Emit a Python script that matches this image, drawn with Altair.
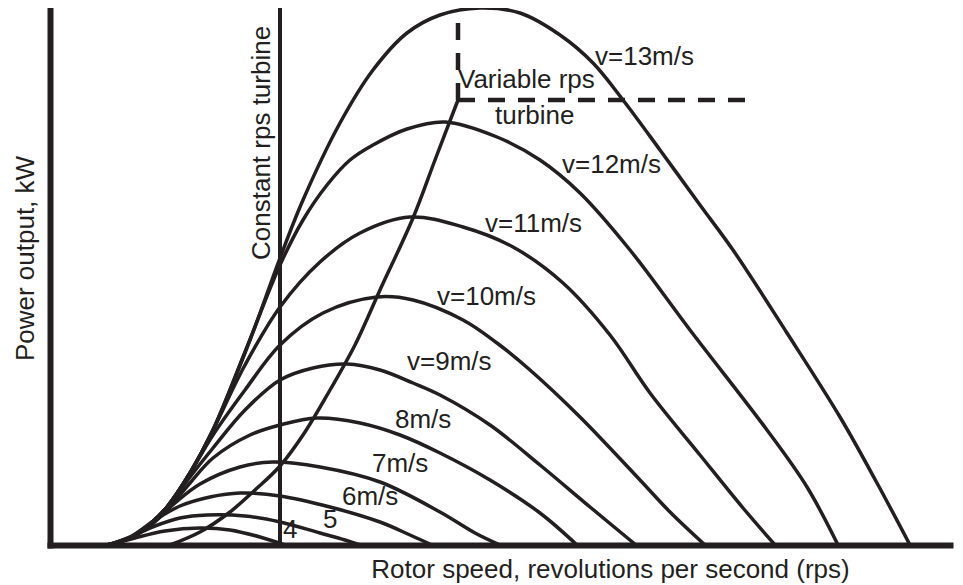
import altair as alt
import pandas as pd

INK = "#231f20"
FONT = "Liberation Sans"

# wind speed of each power curve (m/s)
speeds = [4, 5, 6, 7, 8, 9, 10, 11, 12, 13]

# rotor speed (x) and power output (y), arbitrary units
c4_x = [60, 85, 115, 150, 180, 210, 235]
c4_y = [0, 7, 14, 17, 15, 8, 0]
c5_x = [58, 80, 105, 130, 157, 195, 230, 270, 295, 310]
c5_y = [0, 8, 19, 27, 30, 29, 23, 12, 5, 0]
c6_x = [57, 80, 105, 130, 160, 190, 230, 280, 330, 360, 382]
c6_y = [0, 8, 25, 39, 48, 52, 49, 38, 23, 10, 0]
c7_x = [57, 80, 100, 125, 150, 190, 223, 270, 330, 390, 425, 450]
c7_y = [0, 7, 19, 42, 61, 78, 83, 78, 63, 33, 12, 0]
c8_x = [57, 80, 100, 117, 140, 163, 200, 230, 267, 310, 350, 390, 440, 490, 527]
c8_y = [0, 7, 20, 35, 62, 87, 110, 120, 127, 122, 110, 92, 65, 32, 0]
c9_x = [57, 80, 100, 117, 140, 163, 195, 230, 263, 297, 330, 363, 390, 440, 490, 540, 586]
c9_y = [0, 7, 21, 37, 68, 97, 135, 165, 177, 181, 175, 162, 150, 120, 80, 38, 0]
c10_x = [57, 80, 100, 117, 140, 163, 195, 230, 273, 327, 363, 413, 447, 480, 530, 590, 620, 655]
c10_y = [0, 7, 21, 38, 72, 110, 155, 200, 232, 248, 245, 225, 202, 175, 128, 65, 33, 0]
c11_x = [57, 80, 100, 117, 140, 163, 195, 230, 270, 310, 360, 413, 463, 513, 560, 600, 650, 693, 725]
c11_y = [0, 7, 21, 38, 72, 115, 180, 238, 283, 312, 328, 318, 298, 262, 210, 152, 90, 37, 0]
c12_x = [57, 80, 100, 117, 140, 163, 195, 230, 253, 277, 300, 323, 357, 395, 447, 490, 530, 580, 640, 717, 757, 788]
c12_y = [0, 7, 21, 38, 72, 115, 193, 280, 325, 360, 385, 400, 416, 423, 408, 385, 352, 295, 215, 115, 58, 0]
c13_x = [57, 80, 100, 117, 140, 163, 200, 230, 253, 290, 323, 357, 390, 430, 470, 510, 543, 573, 610, 650, 683, 737, 790, 827, 860]
c13_y = [0, 7, 21, 38, 72, 115, 205, 287, 345, 422, 475, 512, 530, 537, 532, 510, 482, 445, 395, 340, 295, 212, 128, 62, 0]

curve_x = [c4_x, c5_x, c6_x, c7_x, c8_x, c9_x, c10_x, c11_x, c12_x, c13_x]
curve_y = [c4_y, c5_y, c6_y, c7_y, c8_y, c9_y, c10_y, c11_y, c12_y, c13_y]

# variable-rps operating line (through the peaks)
var_x = [120, 150, 180, 205, 230, 255, 280, 305, 330, 363, 385, 408]
var_y = [0, 13, 33, 55, 79, 113, 155, 200, 255, 327, 385, 445]

# dashed limit lines (rated power / rated speed)
dash_x = [408, 408]
dash_x2 = [698, 408]
dash_y = [445, 445]
dash_y2 = [445, 535]

# constant-rps turbine
const_x = [230]
const_y = [0]
const_y2 = [537]

# curve labels
lab_text = ["v=13m/s", "Variable rps", "turbine", "v=12m/s", "v=11m/s", "v=10m/s",
            "v=9m/s", "8m/s", "7m/s", "6m/s", "5", "4"]
lab_x = [545, 408, 445, 512, 435, 387, 357, 345, 322, 292, 273, 233]
lab_y = [480, 457, 421, 372, 313, 240, 175, 117, 73, 40, 17, 7]

rot_text = ["Constant rps turbine"]
rot_x = [220]
rot_y = [285]

rows = []
for s, xs, ys in zip(speeds, curve_x, curve_y):
    for a, b in zip(xs, ys):
        rows.append({"speed": s, "x": a, "y": b})
curves_df = pd.DataFrame(rows)
var_df = pd.DataFrame({"x": var_x, "y": var_y})
dash_df = pd.DataFrame({"x": dash_x, "x2": dash_x2, "y": dash_y, "y2": dash_y2})
const_df = pd.DataFrame({"x": const_x, "y": const_y, "y2": const_y2})
lab_df = pd.DataFrame({"t": lab_text, "x": lab_x, "y": lab_y})
rot_df = pd.DataFrame({"t": rot_text, "x": rot_x, "y": rot_y})

xscale = alt.Scale(domain=[0, 900], nice=False, zero=False)
yscale = alt.Scale(domain=[0, 537], nice=False, zero=False)
xaxis = alt.Axis(title="Rotor speed, revolutions per second (rps)", titleX=560, titleY=32,
                 titleBaseline="alphabetic", titleAlign="center")
yaxis = alt.Axis(title="Power output, kW", titleX=-17, titleY=250, titleAngle=270,
                 titleBaseline="alphabetic", titleAlign="center")
X = alt.X("x:Q", scale=xscale, axis=xaxis)
Y = alt.Y("y:Q", scale=yscale, axis=yaxis)

curves = alt.Chart(curves_df).mark_line(
    color=INK, strokeWidth=3.5, interpolate="catmull-rom"
).encode(x=X, y=Y, detail="speed:N")

var_line = alt.Chart(var_df).mark_line(
    color=INK, strokeWidth=3.5, interpolate="catmull-rom"
).encode(x=X, y=Y)

dashes = alt.Chart(dash_df).mark_rule(
    color=INK, strokeWidth=4.5, strokeDash=[17, 13]
).encode(x=X, x2="x2:Q", y=Y, y2="y2:Q")

const = alt.Chart(const_df).mark_rule(color=INK, strokeWidth=4).encode(x=X, y=Y, y2="y2:Q")

labels = alt.Chart(lab_df).mark_text(
    font=FONT, fontSize=26, color=INK, align="left", baseline="alphabetic"
).encode(x=X, y=Y, text="t:N")

rot = alt.Chart(rot_df).mark_text(
    font=FONT, fontSize=26, color=INK, align="left", baseline="alphabetic", angle=270
).encode(x=X, y=Y, text="t:N")

chart = alt.layer(curves, var_line, dashes, const, labels, rot).properties(
    width=900, height=537,
    autosize=alt.AutoSizeParams(type="none"),
    padding={"left": 42, "top": 0, "right": 5, "bottom": 40},
    background="white",
).configure_view(strokeWidth=0).configure_axis(
    domainColor=INK, domainWidth=6, domainCap="square", ticks=False, labels=False, grid=False,
    titleFont=FONT, titleFontSize=26, titleFontWeight="normal", titleColor=INK,
)

chart.save("out.html", embed_options={"renderer": "svg", "actions": False})
